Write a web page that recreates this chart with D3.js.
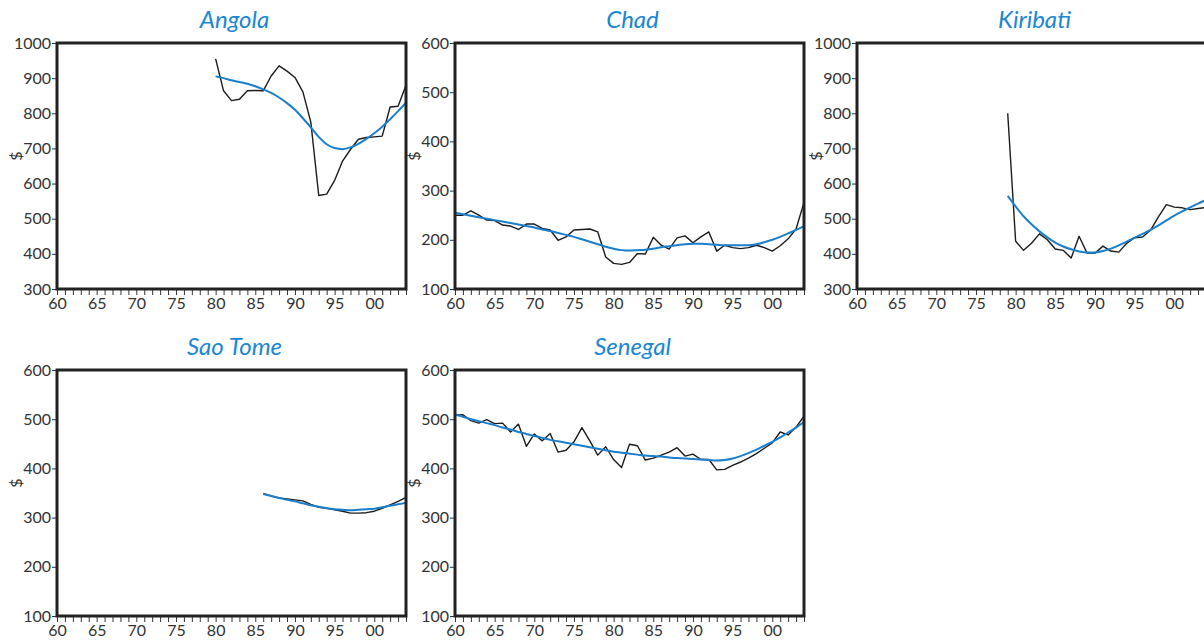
<!DOCTYPE html>
<html>
<head>
<meta charset="utf-8">
<script src="https://cdn.jsdelivr.net/npm/d3@7"></script>
<style>
  html, body { margin: 0; padding: 0; background: #fff; }
  svg { display: block; }
  .tick text { font-family: Lato, "Open Sans", sans-serif; font-size: 16px; fill: #333; }
  .tick line { stroke: #333; stroke-width: 1; }
</style>
</head>
<body>
<svg id="chart" width="1204" height="641"></svg>
<script>
// Real GDP per capita ($), annual series and fitted trend, 1960–2004
const countries = ["Angola", "Chad", "Kiribati", "Sao Tome", "Senegal"];
const yearTicks = [1960, 1965, 1970, 1975, 1980, 1985, 1990, 1995, 2000];
const yearLabels = ["60", "65", "70", "75", "80", "85", "90", "95", "00"];
const highTicks = [300, 400, 500, 600, 700, 800, 900, 1000];
const lowTicks = [100, 200, 300, 400, 500, 600];

const angolaStart = 1980;
const angolaGdp = [955, 864, 836, 840, 864, 865, 864, 906, 935, 920, 902, 861, 775, 566, 570, 609,
                   664, 697, 726, 731, 733, 735, 818, 820, 880];
const angolaTrend = [905, 900, 894, 889, 884, 877, 868, 858, 845, 829, 810, 786, 760, 733, 712, 701,
                     698, 703, 713, 727, 743, 762, 783, 806, 830];

const chadStart = 1960;
const chadGdp = [250, 250, 259, 250, 240, 239, 230, 228, 221, 232, 232, 223, 220, 199, 206, 220,
                 221, 222, 216, 165, 152, 150, 154, 172, 171, 205, 189, 181, 204, 208, 194, 206,
                 216, 177, 189, 184, 182, 184, 189, 184, 177, 188, 202, 222, 276];
const chadTrend = [255, 252, 249, 246, 243, 240, 237, 234, 231, 228, 225, 221, 218, 214, 210, 206,
                   201, 196, 191, 186, 182, 179, 178, 179, 180, 182, 185, 187, 189, 191, 192, 192,
                   191, 190, 189, 189, 189, 189, 191, 195, 200, 206, 213, 220, 228];

const kiribatiStart = 1979;
const kiribatiGdp = [800, 436, 410, 430, 457, 440, 414, 410, 388, 450, 402, 402, 422, 408, 405, 430,
                     446, 448, 467, 505, 540, 533, 531, 526, 529, 532];
const kiribatiTrend = [565, 535, 507, 484, 464, 447, 432, 421, 413, 407, 404, 404, 408, 415, 424, 435,
                       446, 457, 468, 481, 495, 509, 521, 532, 543, 553];

const saoTomeStart = 1986;
const saoTomeGdp = [349, 344, 340, 338, 336, 334, 327, 321, 319, 316, 313, 309, 309, 310, 313, 319,
                    326, 333, 341];
const saoTomeTrend = [348, 344, 340, 336, 333, 329, 325, 322, 319, 317, 316, 315, 316, 317, 318, 321,
                      324, 327, 330];

const senegalStart = 1960;
const senegalGdp = [508, 509, 497, 492, 499, 491, 492, 474, 490, 445, 470, 456, 471, 433, 437, 454,
                    483, 456, 427, 444, 418, 402, 449, 446, 417, 421, 427, 433, 442, 425, 429, 418,
                    418, 397, 398, 406, 413, 421, 430, 441, 452, 474, 468, 484, 506];
const senegalTrend = [509, 505, 500, 496, 492, 488, 483, 479, 474, 470, 466, 462, 458, 455, 452, 449,
                      446, 443, 440, 437, 434, 432, 430, 428, 426, 425, 424, 422, 421, 420, 419, 418,
                      417, 416, 417, 420, 425, 431, 438, 446, 454, 463, 473, 483, 494];

const series = [
  { name: countries[0], start: angolaStart, gdp: angolaGdp, trend: angolaTrend, ticks: highTicks },
  { name: countries[1], start: chadStart, gdp: chadGdp, trend: chadTrend, ticks: lowTicks },
  { name: countries[2], start: kiribatiStart, gdp: kiribatiGdp, trend: kiribatiTrend, ticks: highTicks },
  { name: countries[3], start: saoTomeStart, gdp: saoTomeGdp, trend: saoTomeTrend, ticks: lowTicks },
  { name: countries[4], start: senegalStart, gdp: senegalGdp, trend: senegalTrend, ticks: lowTicks }
];

// Panel layout
const colLeft = [57, 455, 857];
const rowTop = [43, 370];
const plotW = 349, plotH = 246;
const svg = d3.select("#chart");

series.forEach((s, i) => {
  const col = i % 3, row = Math.floor(i / 3);
  const x0 = colLeft[col], y0 = rowTop[row];
  const g = svg.append("g").attr("transform", `translate(${x0},${y0})`);

  const x = d3.scaleLinear().domain([1960, 2004]).range([0, plotW]);
  const y = d3.scaleLinear().domain(d3.extent(s.ticks)).range([plotH, 0]);

  const clipId = "clip" + i;
  g.append("clipPath").attr("id", clipId)
    .append("rect").attr("x", 0).attr("y", 0).attr("width", plotW).attr("height", plotH);

  // axes
  const yAxis = d3.axisLeft(y).tickValues(s.ticks).tickSize(5).tickPadding(1).tickFormat(d3.format("d"));
  g.append("g").call(yAxis).call(a => a.select(".domain").remove());

  const xAxis = d3.axisBottom(x).tickValues(d3.range(1960, 2005)).tickSize(6).tickPadding(3)
    .tickFormat(d => { const k = yearTicks.indexOf(d); return k >= 0 ? yearLabels[k] : ""; });
  g.append("g").attr("transform", `translate(0,${plotH})`).call(xAxis)
    .call(a => a.select(".domain").remove());

  // lines
  const pts = arr => arr.map((v, k) => [s.start + k, v]);
  const line = d3.line().x(d => x(d[0])).y(d => y(d[1]));
  const smooth = d3.line().x(d => x(d[0])).y(d => y(d[1])).curve(d3.curveMonotoneX);

  const plot = g.append("g").attr("clip-path", `url(#${clipId})`);
  plot.append("path").datum(pts(s.gdp)).attr("d", line)
    .attr("fill", "none").attr("stroke", "#1c1c1c").attr("stroke-width", 1.4)
    .attr("stroke-linejoin", "round");
  plot.append("path").datum(pts(s.trend)).attr("d", smooth)
    .attr("fill", "none").attr("stroke", "#1a7fcc").attr("stroke-width", 2);

  // frame
  g.append("rect").attr("x", 0).attr("y", 0).attr("width", plotW).attr("height", plotH)
    .attr("fill", "none").attr("stroke", "#222").attr("stroke-width", 3);

  // title
  g.append("text").attr("x", plotW / 2 + 3).attr("y", -15)
    .attr("text-anchor", "middle")
    .style("font-family", "Lato, 'Open Sans', sans-serif").style("font-style", "italic")
    .style("font-size", "24px").attr("fill", "#1a86d4").text(s.name);

  // y label
  g.append("text").attr("transform", `translate(${-41},${plotH / 2 - 10}) rotate(-90)`)
    .attr("text-anchor", "middle").attr("dy", "0.35em")
    .style("font-family", "Lato, 'Open Sans', sans-serif").style("font-size", "16px")
    .attr("fill", "#333").text("$");
});
</script>
</body>
</html>
